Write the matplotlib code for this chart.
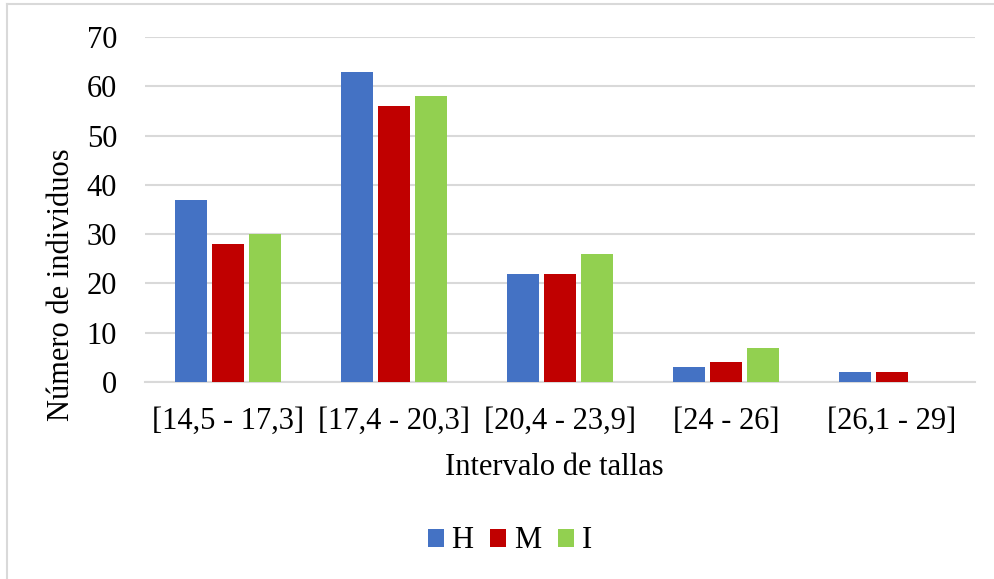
import matplotlib
matplotlib.use("Agg")
import matplotlib.pyplot as plt
from matplotlib.lines import Line2D
import numpy as np

categories = ["[14,5 - 17,3]", "[17,4 - 20,3]", "[20,4 - 23,9]", "[24 - 26]", "[26,1 - 29]"]
series_names = ["H", "M", "I"]
h_values = [37, 63, 22, 3, 2]
m_values = [28, 56, 22, 4, 2]
i_values = [30, 58, 26, 7, 0]
colors = ["#4472C4", "#C00000", "#92D050"]
y_ticks = [0, 10, 20, 30, 40, 50, 60, 70]

plt.rcParams["font.family"] = ["Liberation Serif", "DejaVu Serif"]

W, H = 995, 579
FS = 22
fig = plt.figure(figsize=(W / 100, H / 100), dpi=100)
ax = fig.add_axes([145 / W, 1 - 382 / H, 830 / W, 345 / H])

x = np.arange(len(categories))
bar_w = 0.187
step = 0.223
for k, (vals, name, col) in enumerate(zip([h_values, m_values, i_values], series_names, colors)):
    ax.bar(x + (k - 1) * step, vals, width=bar_w, color=col, label=name, zorder=3)

ax.set_xlim(-0.5, len(categories) - 0.5)
ax.set_ylim(0, 70)
ax.set_yticks(y_ticks)
ax.set_xticks(x)
ax.set_xticklabels(categories)
ax.tick_params(axis="both", length=0, labelsize=FS, colors="black")
ax.tick_params(axis="y", pad=20)
ax.tick_params(axis="x", pad=18)
ax.grid(axis="y", color="#D9D9D9", linewidth=1.5, zorder=0)
for s in ["top", "right", "left"]:
    ax.spines[s].set_visible(False)
ax.spines["bottom"].set_color("#D9D9D9")
ax.spines["bottom"].set_linewidth(1.5)

# axis titles
fig.text(554 / W, 1 - 475 / H, "Intervalo de tallas", fontsize=FS,
         ha="center", va="baseline")
fig.text(62 / W, 1 - 285 / H, "Número de individuos", fontsize=FS,
         rotation=90, ha="center", va="center")

ax.legend(loc="center", bbox_to_anchor=(510 / W, 1 - 541 / H),
          bbox_transform=fig.transFigure, ncol=3, frameon=False,
          fontsize=FS, handlelength=0.52, handleheight=0.52, handletextpad=0.26,
          columnspacing=0.55, borderpad=0, borderaxespad=0)

# outer chart border (left and top)
fig.add_artist(Line2D([7 / W, 7 / W], [1 - 4 / H, 0], transform=fig.transFigure,
                      color="#D9D9D9", linewidth=1.5))
fig.add_artist(Line2D([7 / W, 1], [1 - 4 / H, 1 - 4 / H], transform=fig.transFigure,
                      color="#D9D9D9", linewidth=1.5))

fig.savefig("out.png", dpi=100, facecolor="white")
